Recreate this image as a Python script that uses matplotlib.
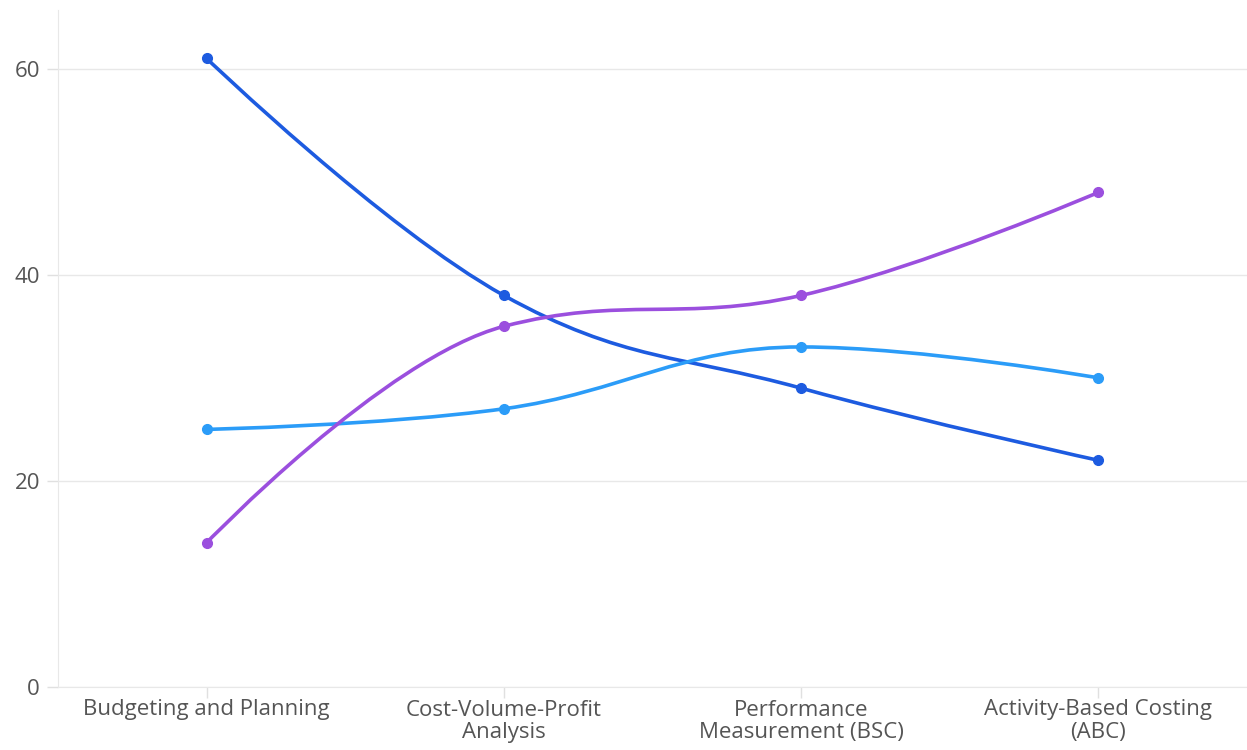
import matplotlib
matplotlib.use("Agg")
import matplotlib.pyplot as plt
from matplotlib.path import Path
from matplotlib.patches import PathPatch
import numpy as np

categories = ["Budgeting and Planning", "Cost-Volume-Profit\nAnalysis",
              "Performance\nMeasurement (BSC)", "Activity-Based Costing\n(ABC)"]
series_dark = [61, 38, 29, 22]
series_light = [25, 27, 33, 30]
series_purple = [14, 35, 38, 48]
y_ticks = [0, 20, 40, 60]

colors = ["#1D5BE0", "#2B9CF8", "#9B4FDE"]
all_series = [series_dark, series_light, series_purple]

plt.rcParams['font.family'] = ['Open Sans', 'DejaVu Sans']

fig = plt.figure(figsize=(12.47, 7.5), dpi=100)
ax = fig.add_axes([58/1247, 63/750, (1247-58)/1247, (687-10)/750])


def spline_path(xs, ys, smoothing=1.5):
    n = len(xs)
    denom = smoothing + 1
    lc = [None] * n
    rc = [None] * n
    for i in range(1, n - 1):
        px, py = xs[i], ys[i]
        lx, ly = xs[i - 1], ys[i - 1]
        nx, ny = xs[i + 1], ys[i + 1]
        lcx = (smoothing * px + lx) / denom
        lcy = (smoothing * py + ly) / denom
        rcx = (smoothing * px + nx) / denom
        rcy = (smoothing * py + ny) / denom
        corr = ((rcy - lcy) * (rcx - px)) / (rcx - lcx) + py - rcy
        lcy += corr
        rcy += corr
        if lcy > ly and lcy > py:
            lcy = max(ly, py); rcy = 2 * py - lcy
        elif lcy < ly and lcy < py:
            lcy = min(ly, py); rcy = 2 * py - lcy
        if rcy > ny and rcy > py:
            rcy = max(ny, py); lcy = 2 * py - rcy
        elif rcy < ny and rcy < py:
            rcy = min(ny, py); lcy = 2 * py - rcy
        lc[i] = (lcx, lcy)
        rc[i] = (rcx, rcy)
    verts = [(xs[0], ys[0])]
    codes = [Path.MOVETO]
    for i in range(1, n):
        c1 = rc[i - 1] if rc[i - 1] is not None else (xs[i - 1], ys[i - 1])
        c2 = lc[i] if lc[i] is not None else (xs[i], ys[i])
        verts += [c1, c2, (xs[i], ys[i])]
        codes += [Path.CURVE4] * 3
    return Path(verts, codes)


x = np.arange(len(categories))
for s, c in zip(all_series, colors):
    p = spline_path(list(x.astype(float)), [float(v) for v in s])
    ax.add_patch(PathPatch(p, facecolor='none', edgecolor=c, lw=2.6,
                           capstyle='round', joinstyle='round', zorder=3))
    ax.plot(x, s, 'o', color=c, markersize=7, zorder=4)

ax.set_xlim(-0.5, 3.5)
ax.set_ylim(0, 65.7)
ax.set_yticks(y_ticks)
ax.set_xticks(x)
ax.set_xticklabels(categories, linespacing=1.1)
ax.grid(axis='y', color='#E8E8E8', lw=1)
ax.set_axisbelow(True)
for sp in ['top', 'right']:
    ax.spines[sp].set_visible(False)
ax.spines['left'].set_color('#E8E8E8')
ax.spines['bottom'].set_color('#E8E8E8')
ax.tick_params(axis='both', colors='#E0E0E0', labelcolor='#555555',
               labelsize=16, length=8, width=1)
ax.tick_params(axis='y', pad=5)
ax.tick_params(axis='x', pad=1)

fig.savefig("out.png", dpi=100)
